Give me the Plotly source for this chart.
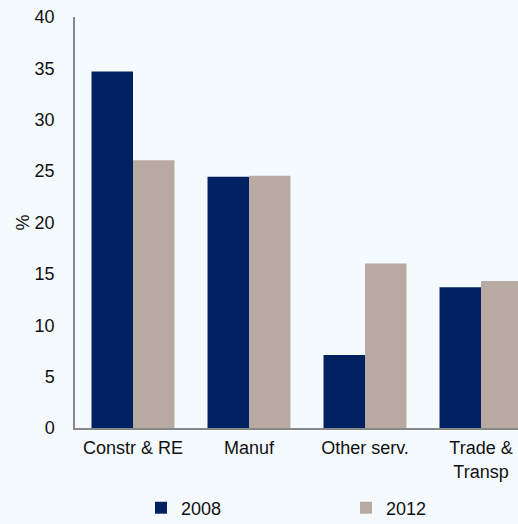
import plotly.graph_objects as go

categories = ["Constr & RE", "Manuf", "Other serv.", "Trade &<br>Transp"]
y2008 = [34.7, 24.45, 7.1, 13.7]
y2012 = [26.05, 24.55, 16.0, 14.3]
series_names = ["2008", "2012"]
yticks = [0, 5, 10, 15, 20, 25, 30, 35, 40]

navy = "#002060"
taupe = "#B8AAA2"
bg = "#F5FAFE"
font = dict(family="Liberation Sans, Arial, sans-serif", size=18, color="#111111")

fig = go.Figure()
fig.add_trace(go.Bar(x=categories, y=y2008, name=series_names[0], marker_color=navy,
                     marker_line_width=0, legend="legend"))
fig.add_trace(go.Bar(x=categories, y=y2012, name=series_names[1], marker_color=taupe,
                     marker_line_width=0, legend="legend2"))

leg_common = dict(orientation="h", xref="container", yref="container", y=1 - 508 / 524,
                  yanchor="middle", xanchor="left", itemwidth=30,
                  bgcolor="rgba(0,0,0,0)", font=font)

fig.update_layout(
    width=518, height=524,
    margin=dict(l=75, r=0, t=17, b=95.5),
    paper_bgcolor=bg, plot_bgcolor=bg,
    font=font,
    barmode="group", bargap=0.285, bargroupgap=0,
    showlegend=True,
    legend=dict(x=141 / 518, **leg_common),
    legend2=dict(x=346 / 518, **leg_common),
    xaxis=dict(range=[-0.5, 3.319], showline=True, linecolor="#888888", linewidth=1.5,
               ticks="", showgrid=False, zeroline=False, tickfont=font, ticklabelstandoff=3),
    yaxis=dict(range=[0, 40], tickvals=yticks, showline=True, linecolor="#888888", linewidth=1.5,
               ticks="", showgrid=False, zeroline=False, tickfont=font, ticklabelstandoff=15,
               title=dict(text="%", font=font, standoff=0)),
)

fig.write_html("out.html")
